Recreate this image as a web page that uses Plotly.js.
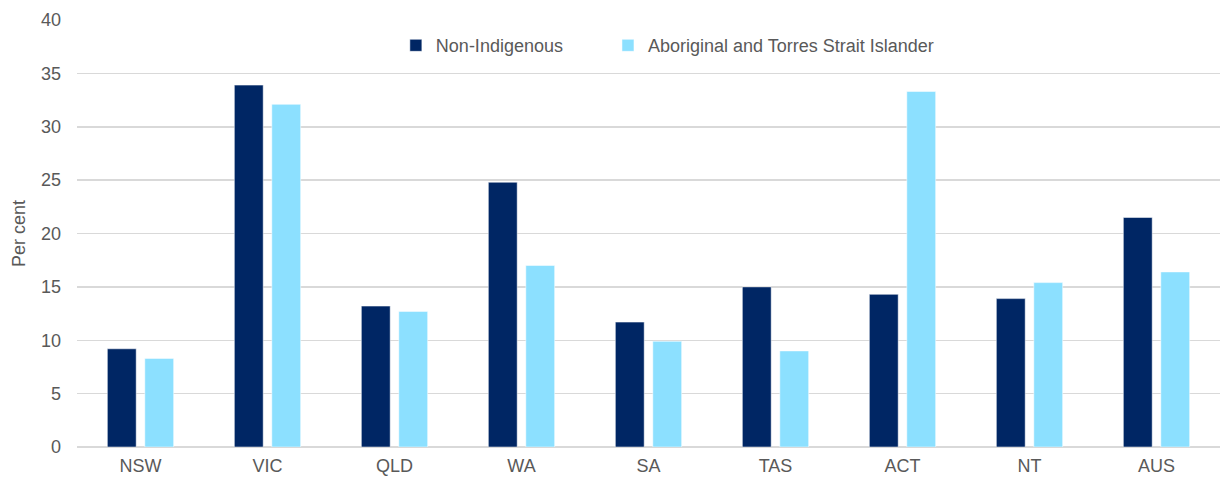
<!DOCTYPE html>
<html>
<head>
<meta charset="utf-8">
<script src="https://cdn.plot.ly/plotly-3.0.1.min.js"></script>
<style>
  html, body { margin: 0; padding: 0; background: #fff; }
  #chart { width: 1226px; height: 479px; }
</style>
</head>
<body>
<div id="chart"></div>
<script>
// States and territories along the x axis
const states = ['NSW', 'VIC', 'QLD', 'WA', 'SA', 'TAS', 'ACT', 'NT', 'AUS'];

// Per cent
const nonIndigenous = [9.2, 33.9, 13.2, 24.8, 11.7, 15.0, 14.3, 13.9, 21.5];
const indigenous = [8.3, 32.1, 12.7, 17.0, 9.9, 9.0, 33.3, 15.4, 16.4];

const seriesNames = ['Non-Indigenous', 'Aboriginal and Torres Strait Islander'];
const yTicks = [0, 5, 10, 15, 20, 25, 30, 35, 40];

const FONT = 'Liberation Sans, Arial, sans-serif';
const GREY = '#595959';
// keeps the wide gap between the two legend entries
const PAD = '\u00a0'.repeat(8);

const traces = [
  {
    type: 'bar',
    name: seriesNames[0] + PAD,
    x: states,
    y: nonIndigenous,
    marker: { color: '#002664', line: { color: '#ffffff', width: 0.5 } },
  },
  {
    type: 'bar',
    name: seriesNames[1],
    x: states,
    y: indigenous,
    marker: { color: '#8ce0ff', line: { color: '#ffffff', width: 0.5 } },
  },
];

const layout = {
  width: 1226,
  height: 479,
  margin: { l: 77, r: 6, t: 20, b: 32 },
  paper_bgcolor: '#ffffff',
  plot_bgcolor: '#ffffff',
  font: { family: FONT, color: GREY, size: 18 },
  barmode: 'group',
  bargap: 0.41,
  bargroupgap: 0.23,
  showlegend: true,
  legend: {
    orientation: 'h',
    x: 0.5165,
    xanchor: 'center',
    y: 0.94,
    yanchor: 'middle',
    font: { family: FONT, size: 18, color: GREY },
    itemwidth: 30,
    bgcolor: 'rgba(0,0,0,0)',
  },
  xaxis: {
    type: 'category',
    showgrid: false,
    showline: false,
    ticks: '',
    ticklabelstandoff: 6,
    tickfont: { family: FONT, size: 18, color: GREY },
  },
  yaxis: {
    range: [0, 40],
    tickvals: yTicks,
    showgrid: true,
    gridcolor: '#d9d9d9',
    gridwidth: 1.5,
    zeroline: true,
    zerolinecolor: '#d9d9d9',
    zerolinewidth: 1.5,
    ticks: '',
    ticklabelstandoff: 15,
    tickfont: { family: FONT, size: 18, color: GREY },
    title: { text: 'Per cent', font: { family: FONT, size: 18, color: GREY }, standoff: 10 },
  },
};

Plotly.newPlot('chart', traces, layout, { displayModeBar: false, staticPlot: true });
</script>
</body>
</html>
